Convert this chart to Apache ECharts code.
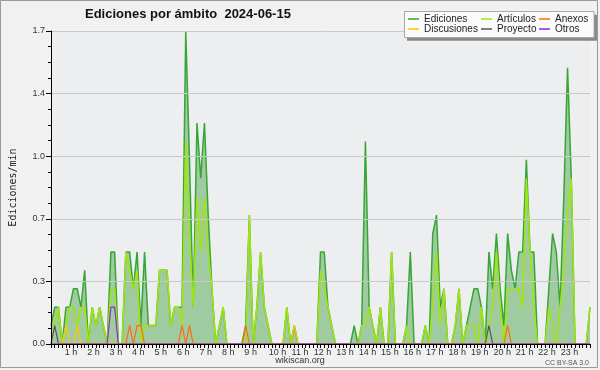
<!DOCTYPE html>
<html><head><meta charset="utf-8">
<script src="https://cdn.jsdelivr.net/npm/echarts@6/dist/echarts.min.js"></script>
<style>html,body{margin:0;padding:0;background:#ffffff;}#c{width:600px;height:370px;}</style>
</head><body><div id="c"></div>
<script>
// 10-minute slots from 00:00 to 24:00 (145 categories)
const slots = [];
for (let i = 0; i <= 144; i++) { const m = i * 10; slots.push(String(Math.floor(m / 60)).padStart(2, '0') + ':' + String(m % 60).padStart(2, '0')); }

const ediciones = [
 0.1,0.2,0.2,0,0.2,0.2,0.3,0.3,0.2,0.4,0,0.2,
 0.1,0.2,0.1,0,0.5,0.5,0,0,0.5,0.5,0.3,0.5,
 0.1,0.5,0.1,0.1,0.1,0.4,0.4,0.4,0.1,0.2,0.2,0.2,
 1.7,1.0,0.2,1.2,0.9,1.2,0.7,0.3,0,0.1,0.2,0,
 0,0,0,0,0.1,0.7,0,0.2,0.5,0.2,0.1,0,
 0,0,0,0.2,0,0.1,0,0,0,0,0,0,
 0.5,0.5,0.2,0.1,0,0,0,0,0,0.1,0,0.1,
 1.1,0.2,0.1,0,0.2,0,0,0.5,0,0,0,0.1,
 0.5,0,0,0,0.1,0,0.6,0.7,0.2,0.3,0,0,
 0.1,0.3,0,0.1,0.2,0.3,0.3,0.2,0,0.5,0.3,0.6,
 0.3,0.1,0.6,0.4,0.3,0.5,0.5,1.0,0.5,0.5,0,0,
 0,0.3,0.6,0.5,0.2,0.8,1.5,0.9,0,0,0,0,
 0.2
];
const articulos = [
 0.1,0.1,0.2,0,0.1,0.2,0.2,0.1,0.2,0.2,0,0.2,
 0.1,0.2,0.1,0,0.3,0.3,0,0,0.5,0.4,0.3,0.4,
 0,0.1,0.1,0.1,0.1,0.4,0.4,0.4,0.1,0.2,0.2,0.1,
 1.1,0.6,0.2,0.8,0.5,0.8,0.5,0.3,0,0.1,0.2,0,
 0,0,0,0,0,0.7,0,0.2,0.5,0.2,0.1,0,
 0,0,0,0.2,0,0,0,0,0,0,0,0,
 0.4,0.3,0.2,0.1,0,0,0,0,0,0,0,0.1,
 0.1,0.2,0.1,0,0.2,0,0,0.5,0,0,0,0.1,
 0,0,0,0,0.1,0,0.2,0.5,0.1,0.3,0,0,
 0.1,0.3,0,0.1,0.1,0.1,0,0.2,0,0.1,0.2,0.5,
 0.2,0,0.3,0.3,0.3,0.3,0.2,0.9,0.5,0.2,0,0,
 0,0.2,0.1,0,0.2,0.4,0.7,0.9,0,0,0,0,
 0.2
];
const anexos = [
 0,0,0,0,0,0,0,0,0,0,0,0,
 0,0,0,0,0,0,0,0,0,0.1,0,0.1,
 0.1,0,0,0,0,0,0,0,0,0,0,0.1,
 0,0.1,0,0,0,0,0,0,0,0,0,0,
 0,0,0,0,0.1,0,0,0,0,0,0,0,
 0,0,0,0,0,0,0,0,0,0,0,0,
 0,0,0,0,0,0,0,0,0,0,0,0,
 0,0,0,0,0,0,0,0,0,0,0,0,
 0,0,0,0,0,0,0,0,0,0,0,0,
 0,0,0,0,0,0,0,0,0,0,0,0,
 0,0,0.1,0,0,0,0,0,0,0,0,0,
 0,0,0,0,0,0,0,0,0,0,0,0,
 0
];
const discusiones = [
 0,0,0,0,0.1,0,0,0.1,0,0,0,0,
 0,0,0,0,0,0,0,0,0,0,0,0,
 0,0,0,0,0,0,0,0,0,0,0,0,
 0,0,0,0,0,0,0,0,0,0,0,0,
 0,0,0,0,0,0,0,0,0,0,0,0,
 0,0,0,0,0,0.1,0,0,0,0,0,0,
 0,0,0,0,0,0,0,0,0,0,0,0,
 0,0,0,0,0,0,0,0,0,0,0,0,
 0,0,0,0,0,0,0,0,0,0,0,0,
 0,0,0,0,0,0,0,0,0,0,0,0,
 0,0,0,0,0,0,0,0,0,0,0,0,
 0,0,0,0,0,0,0,0,0,0,0,0,
 0
];
const proyecto = [
 0,0.1,0,0,0,0,0,0,0,0,0,0,
 0,0,0,0,0,0,0,0,0,0,0,0,
 0,0,0,0,0,0,0,0,0,0,0,0,
 0,0,0,0,0,0,0,0,0,0,0,0,
 0,0,0,0,0,0,0,0,0,0,0,0,
 0,0,0,0,0,0,0,0,0,0,0,0,
 0,0,0,0,0,0,0,0,0,0,0,0,
 0,0,0,0,0,0,0,0,0,0,0,0,
 0,0,0,0,0,0,0,0,0,0,0,0,
 0,0,0,0,0,0,0,0,0,0.1,0,0,
 0,0,0,0,0,0,0,0,0,0,0,0,
 0,0,0,0,0,0,0,0,0,0,0,0,
 0
];
const otros = [
 0,0,0,0,0,0,0,0,0,0,0,0,
 0,0,0,0,0.2,0.2,0,0,0,0,0,0,
 0,0,0,0,0,0,0,0,0,0,0,0,
 0,0,0,0,0,0,0,0,0,0,0,0,
 0,0,0,0,0,0,0,0,0,0,0,0,
 0,0,0,0,0,0,0,0,0,0,0,0,
 0,0,0,0,0,0,0,0,0,0,0,0,
 0,0,0,0,0,0,0,0,0,0,0,0,
 0,0,0,0,0,0,0,0,0,0,0,0,
 0,0,0,0,0,0,0,0,0,0,0,0,
 0,0,0,0,0,0,0,0,0,0,0,0,
 0,0,0,0,0,0,0,0,0,0,0,0,
 0
];

const C = {
  edLine: '#36a636', edFill: '#a0cba0',
  art: '#a2e410', anx: '#ff6a10', dis: '#ffc800', pro: '#555555', otr: '#8a2be2'
};
const FONT = 'Liberation Sans';

const chart = echarts.init(document.getElementById('c'), null, {renderer: 'canvas'});

function mkLine(name, data, color, width, z) {
  return { name, type: 'line', data, symbol: 'none', showSymbol: false, z: z,
    lineStyle: { color, width }, itemStyle: { color }, emphasis: { disabled: true } };
}

const legendBase = {
  orient: 'vertical', top: 14, padding: 0, itemGap: 0, itemWidth: 11, itemHeight: 1.5, icon: 'rect',
  textStyle: { fontFamily: FONT, fontSize: 10, color: '#222', lineHeight: 10, padding: [0, 0, 0, 0] },
  selectedMode: false, z: 20
};

chart.setOption({
  animation: false,
  backgroundColor: '#f1f1f1',
  grid: { left: 46, right: 10, top: 31, bottom: 26, show: true, backgroundColor: '#eceef0', borderWidth: 0 },
  graphic: [
    { type: 'rect', z: 0, shape: { x: 0.5, y: 0.5, width: 597, height: 367 }, style: { fill: 'none', stroke: '#9a9a9a', lineWidth: 1 } },
    { type: 'rect', z: 15, shape: { x: 407, y: 14.7, width: 190, height: 26 }, style: { fill: '#8a8a8a' } },
    { type: 'rect', z: 16, shape: { x: 404.5, y: 11.5, width: 189.5, height: 26 }, style: { fill: '#fbfbfb', stroke: '#a8a8a8', lineWidth: 1 } },
    { type: 'text', z: 20, x: 85, y: 7.5, style: { text: 'Ediciones por ámbito  2024-06-15', font: 'bold 13px "Liberation Sans"', fill: '#111' } },
    { type: 'text', z: 20, x: 300, y: 356, style: { text: 'wikiscan.org', font: '9px "Liberation Sans"', fill: '#333', textAlign: 'center' } },
    { type: 'text', z: 20, x: 589, y: 359.5, style: { text: 'CC BY-SA 3.0', font: '7px "Liberation Sans"', fill: '#555', textAlign: 'right' } }
  ],
  legend: [
    Object.assign({}, legendBase, { left: 408, data: [{ name: 'Ediciones', itemStyle: { color: C.edLine } }, { name: 'Discusiones', itemStyle: { color: C.dis } }] }),
    Object.assign({}, legendBase, { left: 481, data: [{ name: 'Artículos', itemStyle: { color: C.art } }, { name: 'Proyecto', itemStyle: { color: C.pro } }] }),
    Object.assign({}, legendBase, { left: 539, data: [{ name: 'Anexos', itemStyle: { color: C.anx } }, { name: 'Otros', itemStyle: { color: C.otr } }] })
  ],
  xAxis: {
    type: 'category', data: slots, boundaryGap: false, z: 10,
    axisLine: { lineStyle: { color: '#000', width: 1 } },
    axisTick: { show: true, interval: 0, length: 4, lineStyle: { color: '#000' } },
    axisLabel: {
      interval: (idx) => idx % 6 === 0 && idx > 0 && idx < 144,
      margin: 4,
      formatter: (v, idx) => { const h = idx / 6; return h < 10 ? '{s|' + h + ' h}' : '{d|' + h + ' h}'; },
      rich: {
        s: { fontFamily: FONT, fontSize: 9, color: '#333', padding: [0, 5, 0, 0] },
        d: { fontFamily: FONT, fontSize: 9, color: '#333', padding: [0, 0, 0, 4] }
      }
    },
    splitLine: { show: false }
  },
  yAxis: {
    type: 'value', min: 0, max: 1.7, interval: 0.34, z: 10,
    name: 'Ediciones/min', nameLocation: 'middle', nameGap: 33, nameRotate: 90,
    nameTextStyle: { fontFamily: 'DejaVu Sans Mono', fontSize: 10, color: '#222' },
    axisLine: { show: true, lineStyle: { color: '#000', width: 1 } },
    axisTick: { show: true, length: 5, lineStyle: { color: '#000' } },
    minorTick: { show: true, splitNumber: 4, length: 3, lineStyle: { color: '#000' } },
    axisLabel: { margin: 6, fontFamily: FONT, fontSize: 9, color: '#333', formatter: (v) => v.toFixed(1) },
    splitLine: { show: true, lineStyle: { color: '#c8c8c8', width: 1 } }
  },
  series: [
    Object.assign(mkLine('Ediciones', ediciones, C.edLine, 1.5, 2), { areaStyle: { color: C.edFill, opacity: 1 } }),
    mkLine('Artículos', articulos, C.art, 1.5, 3),
    mkLine('Discusiones', discusiones, C.dis, 1.2, 4),
    mkLine('Proyecto', proyecto, C.pro, 1.2, 4),
    mkLine('Anexos', anexos, C.anx, 1.2, 4),
    mkLine('Otros', otros, C.otr, 1.2, 4)
  ]
});
</script>
</body></html>
